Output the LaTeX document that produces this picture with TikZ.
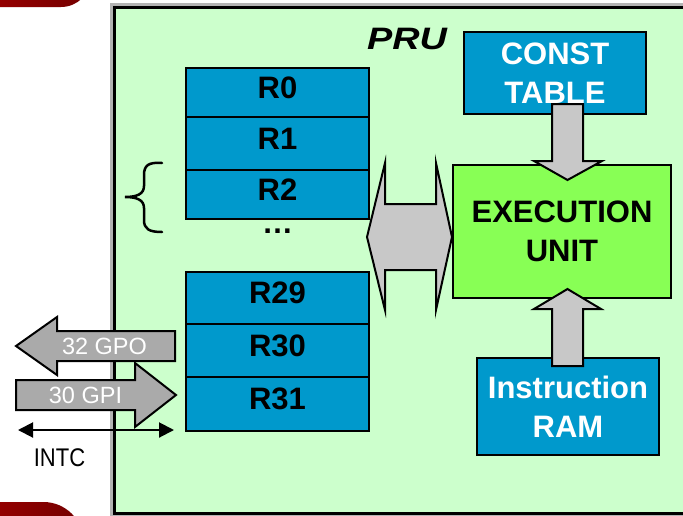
\documentclass[tikz,border=0pt]{standalone}
\usepackage{fontspec}
\setmainfont{Liberation Sans}
\usetikzlibrary{arrows.meta}
\definecolor{bggreen}{RGB}{204,255,204}
\definecolor{regblue}{RGB}{0,153,204}
\definecolor{exgreen}{RGB}{136,255,85}
\definecolor{arrgray}{RGB}{200,200,200}
\definecolor{gpogray}{RGB}{170,170,170}
\definecolor{shadowgray}{RGB}{180,180,180}
\definecolor{redA}{RGB}{170,0,0}
\definecolor{redB}{RGB}{115,0,0}
\newcommand{\bigbf}{\fontsize{31}{39}\selectfont\bfseries}
\tikzset{
  reg/.style={draw=black, line width=2pt, fill=regblue, minimum width=183pt,
    inner sep=0pt, font=\bigbf, text height=22pt, text depth=11pt},
  unitbox/.style={draw=black, line width=2pt, inner sep=0pt, font=\bigbf, align=center},
  blockarrow/.style={draw=black, line width=2pt, fill=arrgray, line join=miter},
  gparrow/.style={draw=black, line width=2pt, fill=gpogray, line join=miter},
  gptext/.style={text=white, font=\fontsize{23.5}{23.5}\selectfont, inner sep=0pt},
}
\begin{document}
\begin{tikzpicture}[x=1pt,y=-1pt]
\useasboundingbox (0,0) rectangle (683,515);
\clip (0,0) rectangle (683,515);
% red decorative shapes
\shade[left color=redA, right color=redB, rounded corners=30pt] (-60,-60) rectangle (91,7);
\shade[left color=redA, right color=redB, rounded corners=40pt] (-60,502) rectangle (83.5,600);
% PRU frame
\fill[shadowgray] (110,3) rectangle (720,530);
\draw[fill=bggreen, line width=3pt] (114.5,7) rectangle (720,513);
\node[font=\fontsize{31}{31}\selectfont\bfseries\itshape, anchor=base, inner sep=0pt] (pru) at (407,49) {\scalebox{1.22}[1]{PRU}};
% registers
\node[reg, minimum height=49pt] (r0) at (277.5,92.5) {R0};
\node[reg, minimum height=53pt] (r1) at (277.5,143.5) {R1};
\node[reg, minimum height=49pt] (r2) at (277.5,194.5) {R2};
\node[font=\bigbf, anchor=base, inner sep=0pt] (dots) at (277.5,233) {…};
\node[reg, minimum height=52pt] (r29) at (277.5,298) {R29};
\node[reg, minimum height=53pt] (r30) at (277.5,350.5) {R30};
\node[reg, minimum height=54pt] (r31) at (277.5,404) {R31};
% brace
\draw[line width=2.5pt, line cap=round] (162,163) .. controls (149,162) and (144,165) .. (144,175) -- (144,186)
  .. controls (144,194) and (137,197) .. (125,197) .. controls (137,197) and (144,200) .. (144,208) -- (144,220)
  .. controls (144,229) and (149,232) .. (162,232);
% units
\node[unitbox, fill=regblue, text=white, minimum width=182pt, minimum height=82pt] (const) at (555,73) {CONST\\TABLE};
\node[unitbox, fill=exgreen, minimum width=218pt, minimum height=133pt] (exec) at (562,231.5) {EXECUTION\\UNIT};
\node[unitbox, fill=regblue, text=white, minimum width=182pt, minimum height=97pt] (iram) at (568,406.5) {Instruction\\RAM};
% block arrows
\draw[blockarrow] (552,104) -- (583,104) -- (583,161) -- (602,161) -- (567.5,180) -- (534,161) -- (552,161) -- cycle;
\draw[blockarrow] (552,366) -- (583,366) -- (583,309) -- (601,309) -- (567.5,289) -- (534,309) -- (552,309) -- cycle;
\draw[blockarrow] (367,237) -- (385,163) -- (385,204) -- (436,204) -- (436,163) -- (452,237)
  -- (436,310) -- (436,270) -- (385,270) -- (385,310) -- cycle;
% GPO / GPI
\draw[gparrow] (16,346) -- (57,317) -- (57,331) -- (175,331) -- (175,361) -- (57,361) -- (57,375) -- cycle;
\node[gptext] (gpo) at (104.5,346) {32 GPO};
\draw[gparrow] (16,380) -- (135,380) -- (135,363) -- (176,395) -- (135,427) -- (135,410) -- (16,410) -- cycle;
\node[gptext] (gpi) at (85.5,395) {30 GPI};
% INTC
\coordinate (intcL) at (18,430);
\coordinate (intcR) at (174,430);
\draw[line width=2pt, {Triangle[length=15pt,width=15pt]}-{Triangle[length=15pt,width=15pt]}] (intcL) -- (intcR);
\node[font=\fontsize{22}{22}\selectfont, inner sep=0pt] (intc) at (59.5,457.5) {\scalebox{1}[1.16]{INTC}};
\end{tikzpicture}
\end{document}
